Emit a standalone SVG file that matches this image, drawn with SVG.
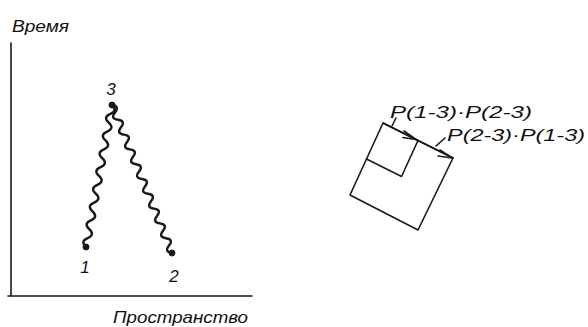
<svg xmlns="http://www.w3.org/2000/svg" width="588" height="327" viewBox="0 0 588 327">
<style>
.t{font-family:"Liberation Sans",Arial,sans-serif;font-style:italic;fill:#111;}
.ln{stroke:#1a1a1a;fill:none;stroke-width:1.6;stroke-linecap:round;stroke-linejoin:round;}
.wv{stroke:#1a1a1a;fill:none;stroke-width:2.4;stroke-linecap:round;}
.dot{fill:#1a1a1a;stroke:#1a1a1a;stroke-width:1;}
</style>
<rect width="588" height="327" fill="#fff"/>
<g id="axes">
<line class="ln" x1="11" y1="43" x2="11" y2="296" stroke-width="2"/>
<line class="ln" x1="8" y1="296" x2="252" y2="296" stroke-width="2"/>
<text class="t" x="12" y="32" font-size="16" textLength="57" lengthAdjust="spacingAndGlyphs">Время</text>
<text class="t" x="113" y="323" font-size="17" textLength="135" lengthAdjust="spacingAndGlyphs">Пространство</text>
</g>
<g id="connectors">
<path class="wv" transform="translate(112,105) rotate(100.37)" d="M0,0 q4.51,-7 9.02,0 t9.02,0 t9.02,0 t9.02,0 t9.02,0 t9.02,0 t9.02,0 t9.02,0 t9.02,0 t9.02,0 t9.02,0 t9.02,0 t9.02,0 t9.02,0 t9.02,0 t9.02,0"/>
<path class="wv" transform="translate(112,105) rotate(67.93)" d="M0,0 q3.99,-7 7.985,0 t7.985,0 t7.985,0 t7.985,0 t7.985,0 t7.985,0 t7.985,0 t7.985,0 t7.985,0 t7.985,0 t7.985,0 t7.985,0 t7.985,0 t7.985,0 t7.985,0 t7.985,0 t7.985,0 t7.985,0 t7.985,0 t7.985,0"/>
</g>
<g id="node3">
<circle class="dot" cx="112" cy="105" r="3"/>
<text class="t" x="111" y="95" font-size="17" text-anchor="middle">3</text>
</g>
<g id="node1">
<circle class="dot" cx="86" cy="247" r="3"/>
<text class="t" x="85" y="273" font-size="17" text-anchor="middle">1</text>
</g>
<g id="node2">
<circle class="dot" cx="172" cy="253" r="3"/>
<text class="t" x="174" y="282" font-size="17" text-anchor="middle">2</text>
</g>
<g id="squares">
<polygon class="ln" points="383,123 453,158 418,230 350,195"/>
<polyline class="ln" points="418,140.5 401.5,176.5 366.5,159"/>
<line class="ln" x1="383" y1="123" x2="453" y2="158" stroke-width="2.8"/>
<polyline class="ln" points="404,131 416,139.5 403,137.5"/>
<polyline class="ln" points="440,150 452,158 438,156"/>
<line class="ln" x1="396" y1="118" x2="392" y2="126"/>
<line class="ln" x1="445" y1="138" x2="436" y2="146"/>
<text class="t" x="390" y="118" font-size="17" textLength="142" lengthAdjust="spacingAndGlyphs">P(1-3)·P(2-3)</text>
<text class="t" x="447" y="141" font-size="17" textLength="138" lengthAdjust="spacingAndGlyphs">P(2-3)·P(1-3)</text>
</g>
</svg>
